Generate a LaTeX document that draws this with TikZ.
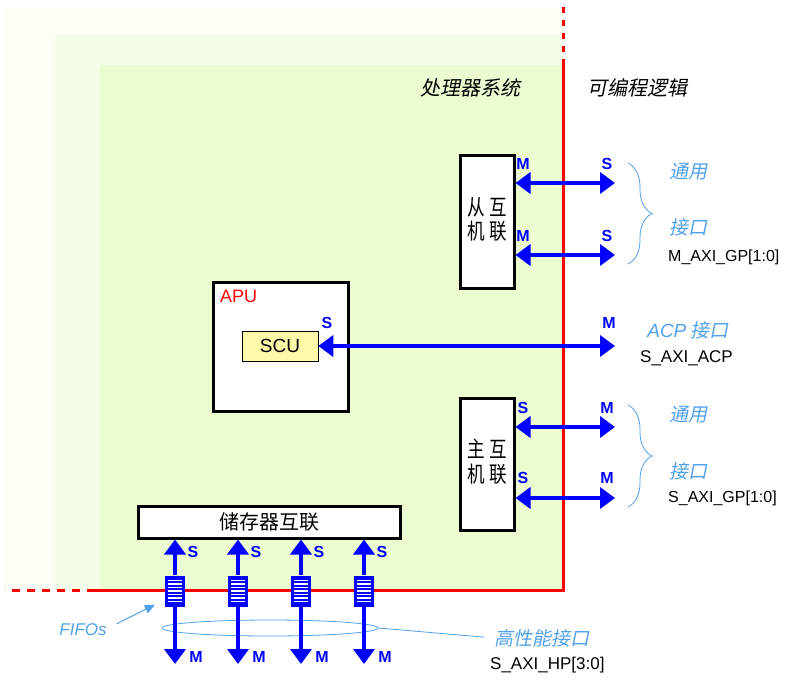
\documentclass[tikz,border=0pt]{standalone}
\usepackage{fontspec}
\setmainfont{Liberation Sans}
\newfontfamily\cjk[AutoFakeSlant=0.2]{Noto Sans CJK SC}
\usetikzlibrary{arrows.meta,positioning,shapes.geometric,decorations.pathreplacing}

\definecolor{psouter}{RGB}{252,255,246}
\definecolor{psmid}{RGB}{244,253,232}
\definecolor{psinner}{RGB}{234,252,208}
\definecolor{axiblue}{RGB}{0,0,255}
\definecolor{noteblue}{RGB}{80,160,235}
\definecolor{scuyellow}{RGB}{255,249,170}
\definecolor{plred}{RGB}{255,0,0}

% two upright columns of narrow characters
\newcommand{\twocol}[4]{\scalebox{0.8}[1]{\renewcommand{\arraystretch}{0.95}%
	\begin{tabular}{@{}c@{\hspace{5pt}}c@{}}#1&#3\\#2&#4\end{tabular}}}

\tikzset{
	icbox/.style={draw=black, line width=3pt, fill=white, inner sep=0pt,
		font=\cjk\fontsize{22}{22}\selectfont},
	bus/.style={draw=axiblue, line width=4pt,
		{Triangle[length=15pt,width=21pt]}-{Triangle[length=15pt,width=21pt]}},
	busone/.style={draw=axiblue, line width=4pt, -{Triangle[length=15pt,width=21pt]}},
	port/.style={text=axiblue, inner sep=0pt, font=\fontsize{16}{16}\selectfont\bfseries},
	note/.style={text=noteblue, inner sep=0pt, font=\cjk\itshape\fontsize{19}{19}\selectfont},
	title/.style={text=black, inner sep=0pt, font=\cjk\itshape\fontsize{20}{20}\selectfont},
	sig/.style={text=black, inner sep=0pt, anchor=west, font=\fontsize{16}{16}\selectfont},
	brc/.style={draw=noteblue, line width=0.8pt, decorate, decoration={brace, amplitude=24pt}},
	fifo/.style={fill=axiblue, minimum width=20pt, minimum height=31pt, inner sep=0pt,
		path picture={\foreach \k in {0,...,6}
			\draw[white, line width=1.4pt]
			([xshift=3pt,yshift=-5pt-\k*3.5pt]path picture bounding box.north west) --
			([xshift=-3pt,yshift=-5pt-\k*3.5pt]path picture bounding box.north east);}}
}

\begin{document}
\begin{tikzpicture}[x=1pt, y=-1pt]
	\useasboundingbox (0,0) rectangle (787,683);
	
	% processing system area and PL border
	\fill[psouter] (3,8) rectangle (563,590);
	\fill[psmid] (55,35) rectangle (563,590);
	\fill[psinner] (100,65) rectangle (563,590);
	\draw[plred, line width=3pt] (563,65) -- (563,590) -- (95,590);
	\draw[plred, line width=3pt, dash pattern=on 6pt off 7pt] (563,65) -- (563,5);
	\draw[plred, line width=3pt, dash pattern=on 8pt off 7pt] (95,590) -- (5,590);
	
	\node[title] (pslbl) at (470,88) {处理器系统};
	\node[title] (pllbl) at (637,88) {可编程逻辑};
	
	% slave interconnect, M_AXI_GP
	\node[icbox, minimum width=54pt, minimum height=133pt] (slv) at (487,221.5) {\twocol{从}{机}{互}{联}};
	\coordinate (gpm0) at (615,183);
	\coordinate (gpm1) at (615,255);
	\draw[bus] (slv.east |- gpm0) -- (gpm0);
	\draw[bus] (slv.east |- gpm1) -- (gpm1);
	\node[port] (slvm0) at (523,164) {M};
	\node[port] (slvm1) at (523,236) {M};
	\node[port] (slvs0) at (607,164) {S};
	\node[port] (slvs1) at (607,236) {S};
	\draw[brc] (628,163) -- (628,264);
	\node[note] (gpn0) at (688,172) {通用};
	\node[note] (gpn1) at (688,227) {接口};
	\node[sig] (gpsig0) at (668,257) {M\_AXI\_GP[1:0]};
	
	% APU with SCU, ACP
	\node[icbox, minimum width=135pt, minimum height=129pt] (apu) at (280.5,346.5) {};
	\node[text=plred, inner sep=0pt, anchor=north west, font=\fontsize{18}{18}\selectfont] (apulbl) at (220,290) {APU};
	\node[draw=black, line width=0.6pt, fill=scuyellow, minimum width=76pt, minimum height=30pt,
		font=\fontsize{19}{19}\selectfont] (scu) at (280,346) {SCU};
	\coordinate (acpm) at (615,346);
	\draw[bus] (scu.east) -- (acpm);
	\node[port] (scus) at (327,323) {S};
	\node[port] (acpmlbl) at (609,323) {M};
	\node[note] (acpn) at (688,330) {{\rmfamily ACP}\ 接口};
	\node[sig, font=\fontsize{17}{17}\selectfont] (acpsig) at (640,358) {S\_AXI\_ACP};
	
	% master interconnect, S_AXI_GP
	\node[icbox, minimum width=54pt, minimum height=132pt] (mst) at (487,464) {\twocol{主}{机}{互}{联}};
	\coordinate (gps0) at (615,427);
	\coordinate (gps1) at (615,498);
	\draw[bus] (mst.east |- gps0) -- (gps0);
	\draw[bus] (mst.east |- gps1) -- (gps1);
	\node[port] (msts0) at (523,408) {S};
	\node[port] (msts1) at (523,478) {S};
	\node[port] (mstm0) at (607,408) {M};
	\node[port] (mstm1) at (607,478) {M};
	\draw[brc] (628,405) -- (628,507);
	\node[note] (gpn2) at (688,415) {通用};
	\node[note] (gpn3) at (688,471) {接口};
	\node[sig] (gpsig1) at (668,498) {S\_AXI\_GP[1:0]};
	
	% memory interconnect, FIFOs, S_AXI_HP
	\node[icbox, minimum width=262pt, minimum height=32pt, font=\cjk\fontsize{20}{20}\selectfont] (mem) at (269,522) {储存器互联};
	\node[ellipse, draw=noteblue, line width=0.8pt, minimum width=216pt, minimum height=16pt, inner sep=0pt] (hpring) at (270,628) {};
	\foreach \i/\x in {1/175,2/238,3/301,4/364} {
		\node[fifo] (fifo\i) at (\x,591) {};
		\coordinate (hp\i) at (\x,664);
		\draw[busone] (fifo\i) -- (fifo\i |- mem.south);
		\draw[busone] (fifo\i) -- (hp\i);
		\node[port] (hps\i) at (\x+18,552) {S};
		\node[port] (hpm\i) at (\x+21,657) {M};
	}
	\node[text=noteblue, inner sep=0pt, font=\fontsize{17}{17}\selectfont\itshape] (fifolbl) at (83,630) {FIFOs};
	\draw[noteblue, line width=1pt, -{Triangle[length=10pt,width=9pt]}]
		([xshift=10pt]fifolbl.north east) -- ([xshift=-10pt,yshift=2pt]fifo1.south west);
	\node[note] (hplbl) at (542,638) {高性能接口};
	\draw[noteblue, line width=0.8pt, shorten >=10pt] (hpring.east) -- (hplbl.west);
	\node[sig, font=\fontsize{17}{17}\selectfont] (hpsig) at (490,665) {S\_AXI\_HP[3:0]};
	
\end{tikzpicture}
\end{document}
